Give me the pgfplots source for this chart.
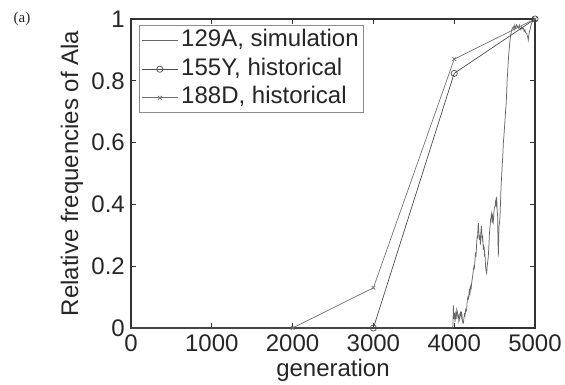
\documentclass[border=0pt]{standalone}
\usepackage{fontspec}
\setmainfont{Liberation Sans}
\newfontfamily\serifa{Liberation Serif}
\usepackage{pgfplots}
\pgfplotsset{compat=1.18}
\begin{document}
\begin{tikzpicture}
\path[use as bounding box] (-131pt,-57pt) rectangle (434pt,328pt);
\begin{axis}[
  at={(0pt,0pt)}, anchor=south west,
  scale only axis, width=404pt, height=309pt,
  xmin=0, xmax=5000, ymin=0, ymax=1,
  xtick={0,1000,2000,3000,4000,5000},
  ytick={0,0.2,0.4,0.6,0.8,1},
  scaled x ticks=false,
  /pgf/number format/1000 sep={},
  /pgf/number format/assume math mode=true,
  tick align=inside, xtick pos=both, ytick pos=both,
  xticklabel pos=left, yticklabel pos=left,
  major tick length=5pt,
  every tick/.style={black!80, line width=1.2pt},
  axis line style={black!80, line width=2.4pt},
  tick label style={font=\fontsize{24}{28}\selectfont, text=black!85},
  xticklabel style={inner sep=0pt, anchor=north, yshift=-7pt},
  yticklabel style={inner sep=0pt, anchor=east, xshift=-6pt},
  xlabel={generation},
  ylabel={Relative frequencies of Ala},
  label style={font=\fontsize{24}{28}\selectfont, text=black!85},
  xlabel style={at={(axis description cs:0.5,0)}, anchor=base, yshift=-49pt, inner sep=0pt},
  ylabel style={at={(axis description cs:-0.146,0.5)}, anchor=center, inner sep=0pt},
  legend style={at={(axis description cs:0,1)}, anchor=north west, xshift=8pt, yshift=-6pt,
    draw=black!45, line width=1pt, font=\fontsize{24}{28}\selectfont, text=black!85,
    inner xsep=2pt, inner ysep=1pt,
    nodes={inner sep=3pt, text height=17.5pt, text depth=5pt}},
  legend cell align=left,
  legend image code/.code={\draw[mark repeat=2,mark phase=2] plot coordinates {(0pt,0pt)(18pt,0pt)(36pt,0pt)};},
  clip=false,
]
\addplot[black!60, line width=0.75pt, mark=none] coordinates {
(0,0) (3981,0) (3985,0.01) (3989,0.074) (3995,0.03) (4003,0.05) (4010,0.02) (4018,0.045)
(4025,0.03) (4032,0.06) (4039,0.053) (4046,0.035) (4052,0.04) (4058,0.02) (4063,0.026)
(4070,0.045) (4077,0.05) (4085,0.035) (4092,0.053) (4100,0.03) (4107,0.015) (4113,0.015)
(4120,0.03) (4127,0.045) (4134,0.04) (4142,0.06) (4150,0.055) (4154,0.058) (4162,0.09)
(4170,0.1) (4177,0.095) (4187,0.123) (4195,0.11) (4203,0.135) (4210,0.128) (4216,0.145)
(4224,0.16) (4230,0.17) (4237,0.188) (4245,0.2) (4250,0.195) (4257,0.22) (4263,0.24)
(4270,0.235) (4278,0.274) (4285,0.3) (4290,0.29) (4295,0.33) (4299,0.339) (4305,0.31)
(4312,0.285) (4318,0.3) (4324,0.27) (4330,0.31) (4336,0.33) (4340,0.317) (4346,0.29)
(4352,0.3) (4357,0.27) (4361,0.252) (4366,0.265) (4372,0.26) (4377,0.23) (4381,0.24)
(4388,0.2) (4395,0.185) (4402,0.177) (4408,0.2) (4415,0.215) (4422,0.231) (4428,0.26)
(4435,0.3) (4443,0.328) (4450,0.35) (4457,0.36) (4464,0.371) (4470,0.34) (4476,0.36)
(4484,0.345) (4490,0.37) (4497,0.39) (4505,0.393) (4512,0.41) (4518,0.4) (4526,0.425)
(4532,0.38) (4538,0.36) (4541,0.3) (4546,0.231) (4550,0.28) (4555,0.33) (4560,0.34)
(4567,0.36) (4575,0.42) (4580,0.46) (4587,0.49) (4595,0.53) (4600,0.55) (4608,0.598)
(4615,0.62) (4620,0.64) (4629,0.673) (4635,0.7) (4642,0.72) (4649,0.759) (4655,0.8)
(4662,0.83) (4670,0.867) (4680,0.9) (4691,0.932) (4700,0.95) (4711,0.964) (4720,0.97)
(4732,0.975) (4740,0.965) (4750,0.98) (4760,0.97) (4773,0.981) (4785,0.975) (4795,0.97)
(4806,0.98) (4814,0.97) (4825,0.965) (4835,0.975) (4845,0.968) (4856,0.97) (4865,0.96)
(4875,0.965) (4885,0.955) (4897,0.954) (4905,0.945) (4912,0.94) (4917,0.932) (4925,0.95)
(4932,0.96) (4938,0.964) (4950,0.98) (4965,0.99) (4979,0.997) (5000,1)
};
\addlegendentry{129A, simulation}
\addplot[black!70, line width=0.7pt, mark=o, mark size=3.1pt, mark options={line width=0.7pt}] coordinates {
(3000,0) (4000,0.824) (5000,1)
};
\addlegendentry{155Y, historical}
\addplot[black!55, line width=0.7pt, mark=x, mark size=2.6pt, mark options={line width=0.7pt}] coordinates {
(2000,0) (3000,0.13) (4000,0.87) (5000,1)
};
\addlegendentry{188D, historical}
\node[font=\serifa\fontsize{15}{17}\selectfont, text=black!85] at (axis description cs:0,1) [xshift=-109pt] {(a)};
\end{axis}
\end{tikzpicture}
\end{document}
